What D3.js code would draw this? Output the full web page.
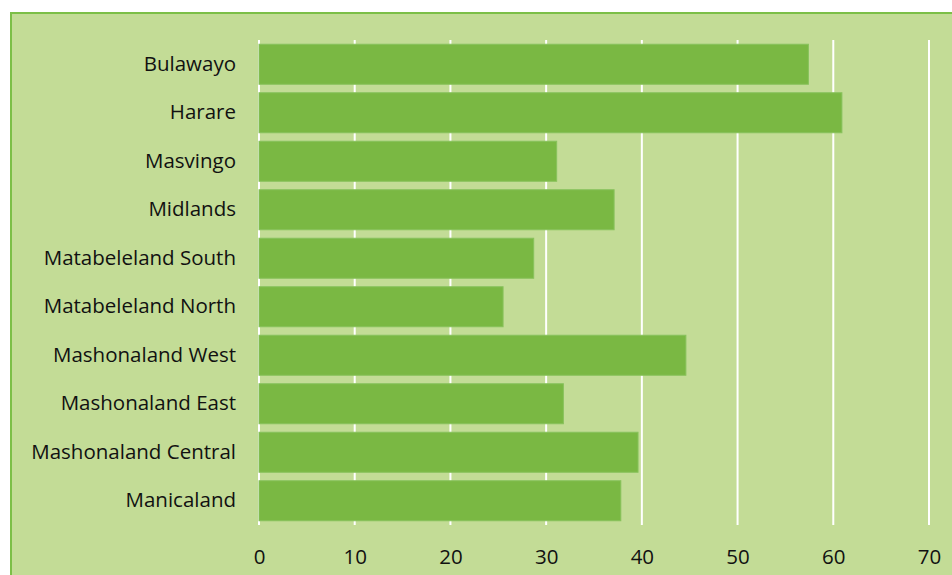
<!DOCTYPE html>
<html>
<head>
<meta charset="utf-8">
<script src="https://cdn.jsdelivr.net/npm/d3@7"></script>
<style>
  html, body { margin: 0; padding: 0; background: #ffffff; }
  svg { display: block; }
  text { font-family: "Open Sans", "Noto Sans", sans-serif; fill: #111; }
</style>
</head>
<body>
<svg id="chart" width="952" height="575"></svg>
<script>
// Province names, top to bottom
const provinces = [
  "Bulawayo", "Harare", "Masvingo", "Midlands", "Matabeleland South",
  "Matabeleland North", "Mashonaland West", "Mashonaland East",
  "Mashonaland Central", "Manicaland"
];
// Value per province
const values = [57.4, 60.9, 31.1, 37.1, 28.7, 25.5, 44.6, 31.8, 39.6, 37.8];
// Axis ticks
const xTicks = [0, 10, 20, 30, 40, 50, 60, 70];

(function () {
  const svg = d3.select("#chart");
  const W = 952, H = 575;
  const plotLeft = 259, plotRight = 929, plotTop = 40, plotBottom = 525;
  const fontSize = 20.5;

  // Chart area with green frame
  svg.append("rect")
    .attr("x", 11).attr("y", 13)
    .attr("width", W + 20).attr("height", H + 20)
    .attr("fill", "#c3dc96")
    .attr("stroke", "#7cbf47")
    .attr("stroke-width", 2);

  const x = d3.scaleLinear().domain([0, 70]).range([plotLeft, plotRight]);
  const y = d3.scaleBand().domain(provinces).range([plotTop, plotBottom])
    .paddingInner(0.175).paddingOuter(0.0875);

  // Vertical gridlines
  svg.append("g").selectAll("line").data(xTicks).join("line")
    .attr("x1", d => x(d)).attr("x2", d => x(d))
    .attr("y1", plotTop).attr("y2", plotBottom)
    .attr("stroke", "#ffffff").attr("stroke-width", 2);

  // Bars
  svg.append("g").selectAll("rect").data(provinces).join("rect")
    .attr("x", x(0))
    .attr("y", d => y(d))
    .attr("width", (d, i) => x(values[i]) - x(0))
    .attr("height", y.bandwidth())
    .attr("fill", "#7ab843")
    .attr("stroke", "#88c25c")
    .attr("stroke-width", 1);

  // Category labels
  const yAxis = d3.axisLeft(y).tickSize(0).tickPadding(23);
  const gy = svg.append("g").attr("transform", `translate(${plotLeft},0)`).call(yAxis);
  gy.select(".domain").remove();
  gy.selectAll("text").attr("font-size", fontSize).style("font-family", "Open Sans").attr("fill", "#0d0d0d");

  // Value axis labels
  const xAxis = d3.axisBottom(x).tickValues(xTicks).tickSize(0).tickPadding(24);
  const gx = svg.append("g").attr("transform", `translate(0,${plotBottom})`).call(xAxis);
  gx.select(".domain").remove();
  gx.selectAll("text").attr("font-size", fontSize).style("font-family", "Open Sans").attr("fill", "#0d0d0d");
})();
</script>
</body>
</html>
